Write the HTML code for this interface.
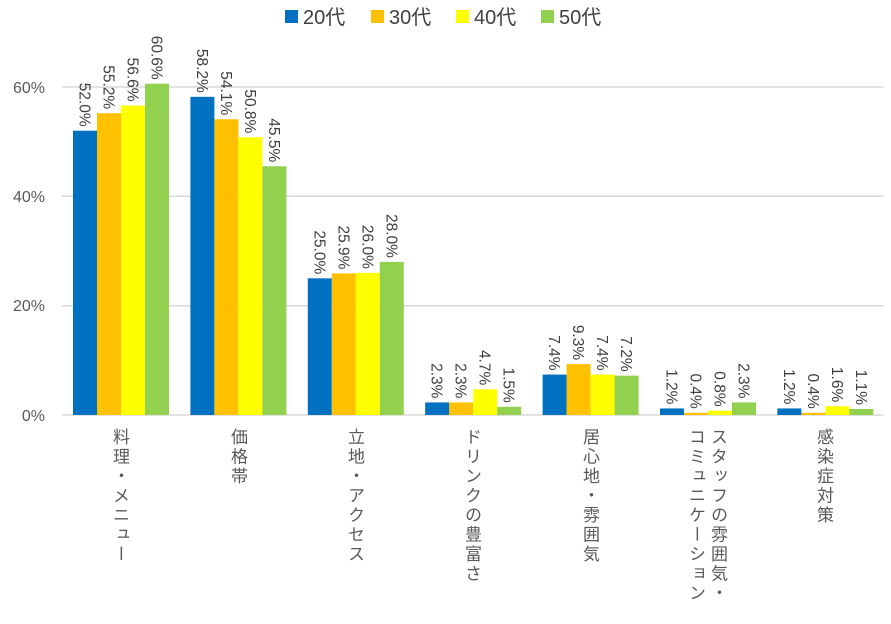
<!DOCTYPE html>
<html><head><meta charset="utf-8"><style>
body{margin:0;background:#fff;width:891px;height:624px;overflow:hidden;position:relative;font-family:"Liberation Sans","Noto Sans CJK JP",sans-serif}
.cat{position:absolute;top:428px;writing-mode:vertical-rl;font-size:17px;color:#595959;line-height:22px;font-family:"Noto Sans CJK JP",sans-serif;letter-spacing:2.5px}
</style></head><body>
<svg width="891" height="624" style="position:absolute;left:0;top:0" font-family="Liberation Sans, sans-serif">
<g stroke="#d9d9d9" stroke-width="1.5">
<line x1="62" x2="884" y1="87" y2="87"/><line x1="62" x2="884" y1="196.3" y2="196.3"/><line x1="62" x2="884" y1="305.7" y2="305.7"/><line x1="62" x2="884" y1="415" y2="415"/>
</g>
<g font-size="16" fill="#595959" text-anchor="end">
<text x="45" y="93">60%</text><text x="45" y="202">40%</text><text x="45" y="311">20%</text><text x="45" y="421">0%</text>
</g>
<g font-size="20" fill="#404040">
<rect x="285" y="10" width="13" height="13" fill="#0070c0"/><text x="303" y="24">20代</text>
<rect x="371" y="10" width="13" height="13" fill="#ffc000"/><text x="389" y="24">30代</text>
<rect x="456" y="10" width="13" height="13" fill="#ffff00"/><text x="474" y="24">40代</text>
<rect x="541" y="10" width="13" height="13" fill="#92d050"/><text x="559" y="24">50代</text>
</g>
<g id="bars"></g>
</svg>
<div class="cat" style="left:110px">料理・メニュー</div>
<div class="cat" style="left:228px">価格帯</div>
<div class="cat" style="left:345px">立地・アクセス</div>
<div class="cat" style="left:462px">ドリンクの豊富さ</div>
<div class="cat" style="left:580px">居心地・雰囲気</div>
<div class="cat" style="left:686px">スタッフの雰囲気・<br>コミュニケーション</div>
<div class="cat" style="left:814px">感染症対策</div>
<script>
var d=[[52.0,55.2,56.6,60.6],[58.2,54.1,50.8,45.5],[25.0,25.9,26.0,28.0],[2.3,2.3,4.7,1.5],[7.4,9.3,7.4,7.2],[1.2,0.4,0.8,2.3],[1.2,0.4,1.6,1.1]];
var c=["#0070c0","#ffc000","#ffff00","#92d050"],s="";
for(var i=0;i<7;i++)for(var j=0;j<4;j++){var x=73+i*117.4+j*24,v=d[i][j],h=v*5.467,y=415-h;
s+='<rect x="'+x+'" y="'+y+'" width="24" height="'+h+'" fill="'+c[j]+'"/>';
s+='<text transform="translate('+(x+6.5)+','+(y-4)+') rotate(90)" text-anchor="end" font-size="15.5" fill="#404040">'+v.toFixed(1)+'%</text>';}
document.getElementById("bars").innerHTML=s;
</script>
</body></html>
